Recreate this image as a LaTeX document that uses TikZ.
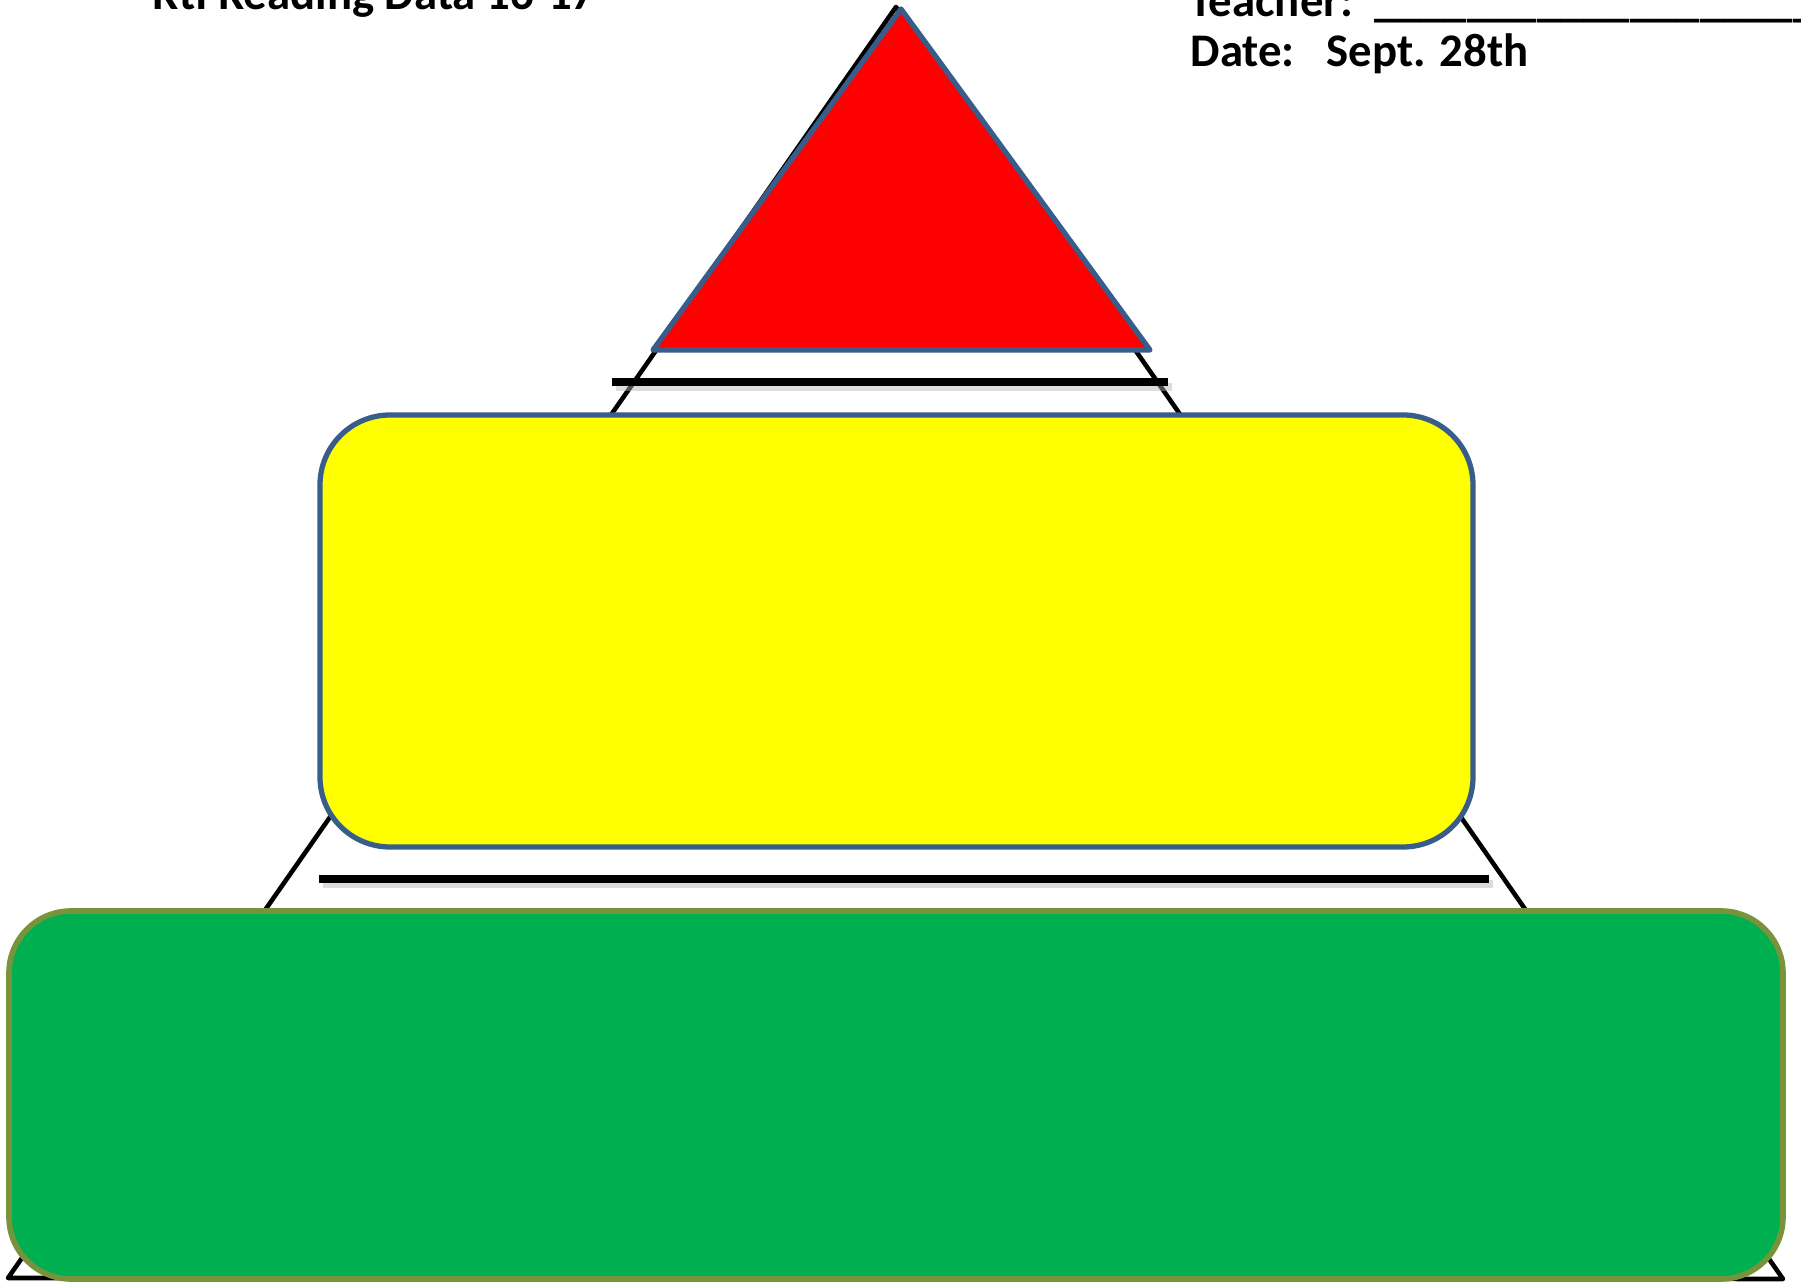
\documentclass[tikz,border=0pt]{standalone}
\usepackage{fontspec}
\setmainfont{Carlito}
\definecolor{tierred}{RGB}{255,0,0}
\definecolor{tieryellow}{RGB}{255,255,0}
\definecolor{tiergreen}{RGB}{0,176,80}
\definecolor{edgeblue}{RGB}{56,93,138}
\definecolor{edgeolive}{RGB}{119,147,60}
\begin{document}
\begin{tikzpicture}[
    x=0.1mm, y=0.1mm,
    font=\fontsize{13.3}{16}\selectfont\bfseries,
    outline/.style={draw=black, line width=1.3pt, line join=round},
    tier/.style={line width=1.5pt, line join=round},
    bar/.style={draw=black, line width=2.1pt},
    barshadow/.style={draw=black!30, line width=2.4pt, opacity=0.45},
    header/.style={anchor=base west, inner sep=0pt},
  ]
  \useasboundingbox (0,0) rectangle (1801,1283);

  % Outer pyramid, mostly hidden behind the tiers.
  \draw[outline] (896,1276) -- (8,5) -- (1783,4) -- cycle;

  % Top tier.
  \draw[tier, draw=edgeblue, fill=tierred]
    (901,1274) -- (653,933) -- (1150,933) -- cycle;

  % Divider under the top tier.
  \draw[barshadow] (616,896) -- (1172,896);
  \draw[bar] (612,901) -- (1168,901);

  % Middle tier.
  \draw[tier, draw=edgeblue, fill=tieryellow, rounded corners=7mm]
    (320,436) rectangle (1473,868);

  % Divider under the middle tier.
  \draw[barshadow] (323,399) -- (1493,399);
  \draw[bar] (319,404) -- (1489,404);

  % Bottom tier.
  \draw[tier, line width=1.6pt, draw=edgeolive, fill=tiergreen, rounded corners=6.2mm]
    (9,4) rectangle (1783,372);

  % Header texts.
  \node[header] (title) at (152,1273) {RtI Reading Data 16-17};
  \node[header] (teacher) at (1189,1266)
    {Teacher:\ \ \_\_\_\_\_\_\_\_\_\_\_\_\_\_\_\_\_\_\_\_};
  \node[header] (date) at (1190,1216) {Date:\ \ \ Sept. 28th};
\end{tikzpicture}
\end{document}
